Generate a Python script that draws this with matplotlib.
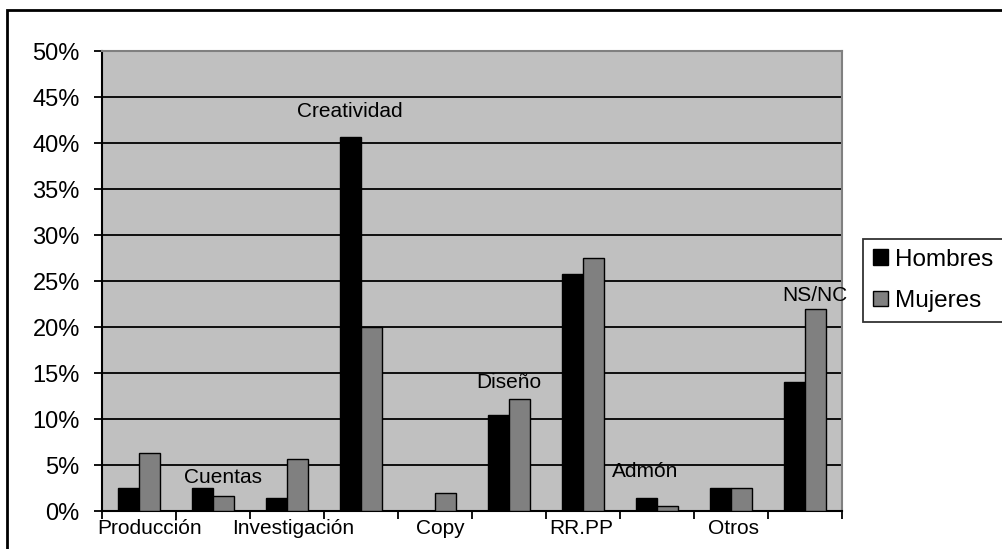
import matplotlib.pyplot as plt
import matplotlib.patches as mpatches
import numpy as np
from matplotlib.ticker import FuncFormatter

plt.rcParams['font.family'] = ['Liberation Sans', 'DejaVu Sans']

# data (percent)
categorias = ['Producción', 'Cuentas', 'Investigación', 'Creatividad', 'Copy',
              'Diseño', 'RR.PP', 'Admón', 'Otros', 'NS/NC']
hombres = [2.5, 2.5, 1.4, 40.7, 0.0, 10.5, 25.8, 1.4, 2.5, 14.0]
mujeres = [6.3, 1.6, 5.7, 20.0, 2.0, 12.2, 27.5, 0.5, 2.5, 22.0]

# where each category name sits: bottom row or floating inside the plot
lab_x = [0.14, 1.14, 2.09, 2.85, 4.07, 5.0, 5.98, 6.84, 8.04, 9.13]
lab_y = [None, 3.7, None, 43.5, None, 14.0, None, 4.3, None, 23.5]

fig = plt.figure(figsize=(10.02, 5.49), dpi=100)
ax = fig.add_axes([0.1018, 0.0692, 0.7385, 0.837])
ax.set_facecolor('#C0C0C0')

x = np.arange(len(categorias))
w = 0.29
ax.bar(x - w / 2, hombres, w, color='black', edgecolor='black', lw=1, zorder=3, label='Hombres')
ax.bar(x + w / 2, mujeres, w, color='#808080', edgecolor='black', lw=1, zorder=3, label='Mujeres')

ax.set_xlim(-0.5, len(categorias) - 0.5)
ax.set_ylim(0, 50)
ax.set_yticks(np.arange(0, 51, 5))
ax.yaxis.set_major_formatter(FuncFormatter(lambda v, p: '%d%%' % v))
ax.grid(axis='y', color='black', lw=1.3, zorder=1)
ax.set_axisbelow(True)

ax.set_xticks(np.arange(-0.5, len(categorias), 1))
ax.set_xticklabels([])
ax.tick_params(axis='x', direction='out', length=6, width=1.3, color='black')
ax.tick_params(axis='y', direction='out', length=6, width=1.3, color='black', labelsize=17, pad=10)

for s in ['left', 'bottom']:
    ax.spines[s].set_color('black')
    ax.spines[s].set_linewidth(1.5)
for s in ['top', 'right']:
    ax.spines[s].set_color('#808080')
    ax.spines[s].set_linewidth(1.5)

for name, lx, ly in zip(categorias, lab_x, lab_y):
    if ly is None:
        ax.annotate(name, xy=(lx, 0), xycoords=('data', 'axes fraction'),
                    xytext=(0, -6), textcoords='offset points',
                    ha='center', va='top', fontsize=15)
    else:
        ax.text(lx, ly, name, ha='center', va='center', fontsize=15, zorder=4)

leg = ax.legend(loc='upper left', bbox_to_anchor=(863 / 1002, 1 - 239 / 549),
                bbox_transform=fig.transFigure, fontsize=17.5, frameon=True,
                fancybox=False, edgecolor='black', handlelength=0.62, handleheight=0.62,
                handletextpad=0.3, borderpad=0.4, labelspacing=0.8, borderaxespad=0)
leg.get_frame().set_linewidth(1.3)

# outer chart border
fig.patches.append(mpatches.Rectangle((7 / 1002, -0.1), 1.2, 1 - 10 / 549 + 0.1,
                                      transform=fig.transFigure, fill=False,
                                      edgecolor='black', lw=2, clip_on=False))

fig.savefig('out.png', dpi=100)
